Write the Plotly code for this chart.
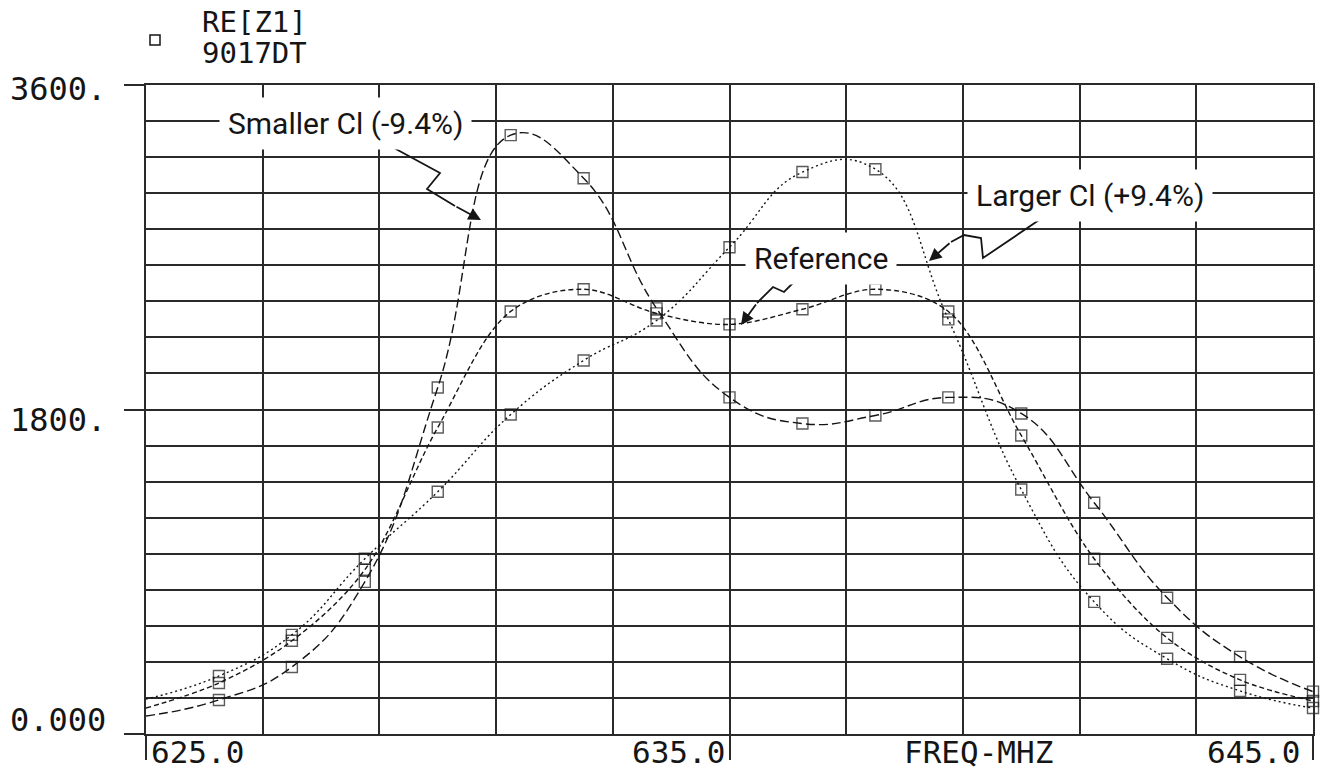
import plotly.graph_objects as go

# ---------------- data ----------------
freq_mhz = [625.0, 626.25, 627.5, 628.75, 630.0, 631.25, 632.5, 633.75, 635.0,
            636.25, 637.5, 638.75, 640.0, 641.25, 642.5, 643.75, 645.0]

re_z1_smaller = [100, 189, 372, 844, 1922, 3322, 3083, 2361, 1867,
                 1722, 1767, 1867, 1778, 1283, 756, 428, 235]
re_z1_reference = [144, 283, 517, 911, 1700, 2344, 2467, 2333, 2272,
                   2356, 2467, 2344, 1656, 972, 533, 300, 183]
re_z1_larger = [194, 322, 550, 972, 1344, 1772, 2072, 2294, 2700,
                3117, 3133, 2300, 1356, 733, 417, 239, 144]

y_tick_labels = ["0.000", "1800.", "3600."]
x_tick_labels = ["625.0", "635.0", "645.0"]
x_axis_title = "FREQ-MHZ"
legend_lines = ["RE[Z1]", "9017DT"]
label_smaller = "Smaller Cl (-9.4%)"
label_reference = "Reference"
label_larger = "Larger Cl (+9.4%)"

# ---------------- layout geometry ----------------
W, H = 1334, 770
ML, MR, MT, MB = 146, 21, 85, 36
PW, PH = W - ML - MR, H - MT - MB
X0, X1, Y0, Y1 = 625.0, 645.0, 0.0, 3600.0


def px2x(px):
    return X0 + (px - ML) * (X1 - X0) / PW


def py2y(py):
    return Y0 + (MT + PH - py) * (Y1 - Y0) / PH


def px2paper(px):
    return (px - ML) / PW


def py2paper(py):
    return (MT + PH - py) / PH


MONO = "DejaVu Sans Mono"
HAND = "Roboto"
INK = "#151515"

fig = go.Figure()

msize = [0] + [11] * (len(freq_mhz) - 1)
series = [
    (re_z1_larger, "2px,3px", "Larger", 1.3),
    (re_z1_reference, "5px,3px", "Reference", 1.0),
    (re_z1_smaller, "9px,4px", "Smaller", 1.3),
]
for ys, dash, name, sm in series:
    fig.add_trace(go.Scatter(
        x=freq_mhz, y=ys, name=name, mode="lines+markers",
        line=dict(color=INK, width=1.4, dash=dash, shape="spline", smoothing=sm),
        marker=dict(symbol="square-open", size=msize, color=INK,
                    line=dict(color=INK, width=1.4)),
        showlegend=False, cliponaxis=False,
    ))

grid_col = "#2a2a2a"
fig.update_xaxes(
    range=[X0, X1], showline=True, mirror=True, linecolor=grid_col, linewidth=1.6,
    tickmode="array", tickvals=[625, 635, 645], ticktext=["", "", ""],
    ticks="outside", ticklen=24, tickwidth=1.6, tickcolor=grid_col,
    showgrid=True, gridcolor=grid_col, gridwidth=1.5,
    minor=dict(tick0=625, dtick=2, showgrid=True, gridcolor=grid_col,
               gridwidth=1.5, ticks=""),
    zeroline=False, showticklabels=False,
)
fig.update_yaxes(
    range=[Y0, Y1], showline=True, mirror=True, linecolor=grid_col, linewidth=1.6,
    tickmode="array", tickvals=[0, 1800, 3600], ticktext=["", "", ""],
    ticks="outside", ticklen=20, tickwidth=1.6, tickcolor=grid_col,
    showgrid=True, gridcolor=grid_col, gridwidth=1.5,
    minor=dict(tick0=0, dtick=200, showgrid=True, gridcolor=grid_col,
               gridwidth=1.5, ticks=""),
    zeroline=False, showticklabels=False,
)

ann = []
# y tick labels
for txt, cy in zip(y_tick_labels, [720, 420, 89]):
    ann.append(dict(xref="paper", yref="paper", x=px2paper(108), y=py2paper(cy),
                    xanchor="right", yanchor="middle", text=txt, showarrow=False,
                    font=dict(family=MONO, size=32, color=INK)))
# x tick labels
ann.append(dict(xref="paper", yref="paper", x=px2paper(149), y=py2paper(752),
                xanchor="left", yanchor="middle", text=x_tick_labels[0], showarrow=False,
                font=dict(family=MONO, size=31, color=INK)))
ann.append(dict(xref="paper", yref="paper", x=px2paper(727), y=py2paper(752),
                xanchor="right", yanchor="middle", text=x_tick_labels[1], showarrow=False,
                font=dict(family=MONO, size=31, color=INK)))
ann.append(dict(xref="paper", yref="paper", x=px2paper(1302), y=py2paper(752),
                xanchor="right", yanchor="middle", text=x_tick_labels[2], showarrow=False,
                font=dict(family=MONO, size=31, color=INK)))
ann.append(dict(xref="paper", yref="paper", x=px2paper(978), y=py2paper(752),
                xanchor="center", yanchor="middle", text=x_axis_title, showarrow=False,
                font=dict(family=MONO, size=31, color=INK)))
# legend-like header
for txt, cy in zip(legend_lines, [22, 53]):
    ann.append(dict(xref="paper", yref="paper", x=px2paper(200), y=py2paper(cy),
                    xanchor="left", yanchor="middle", text=txt, showarrow=False,
                    font=dict(family=MONO, size=29, color=INK)))

# curve labels (white boxes break the gridlines)
for txt, cx, cy in [(label_smaller, 345, 123), (label_reference, 821, 258),
                    (label_larger, 1090, 195)]:
    ann.append(dict(xref="x", yref="y", x=px2x(cx), y=py2y(cy), text=txt,
                    showarrow=False, bgcolor="white", borderpad=8,
                    font=dict(family=HAND, size=30, color=INK)))

# squiggly leader lines + arrow heads
leaders = [
    [(383, 142), (440, 173), (427, 189), (455, 206)],
    [(800, 276), (784, 292), (773, 287), (757, 303)],
    [(1045, 216), (983, 258), (981, 238), (964, 235), (951, 242)],
]
heads = [(481, 220), (741, 325), (929, 261)]
shapes = []
for pts, head in zip(leaders, heads):
    path = "M " + " L ".join(f"{px2x(a)},{py2y(b)}" for a, b in pts)
    shapes.append(dict(type="path", xref="x", yref="y", path=path,
                       line=dict(color=INK, width=1.8)))
    tx, ty = pts[-1]
    ann.append(dict(xref="x", yref="y", axref="x", ayref="y",
                    x=px2x(head[0]), y=py2y(head[1]), ax=px2x(tx), ay=py2y(ty),
                    text="", showarrow=True, arrowhead=2, arrowsize=1.4,
                    arrowwidth=1.8, arrowcolor=INK, standoff=0))

# small square symbol next to header
shapes.append(dict(type="rect", xref="paper", yref="paper",
                   x0=px2paper(150), x1=px2paper(160), y0=py2paper(45), y1=py2paper(35),
                   line=dict(color=INK, width=1.5), fillcolor="white"))

fig.update_layout(
    width=W, height=H, autosize=False,
    margin=dict(l=ML, r=MR, t=MT, b=MB, pad=0),
    paper_bgcolor="white", plot_bgcolor="white",
    annotations=ann, shapes=shapes,
)

fig.write_html("out.html")
